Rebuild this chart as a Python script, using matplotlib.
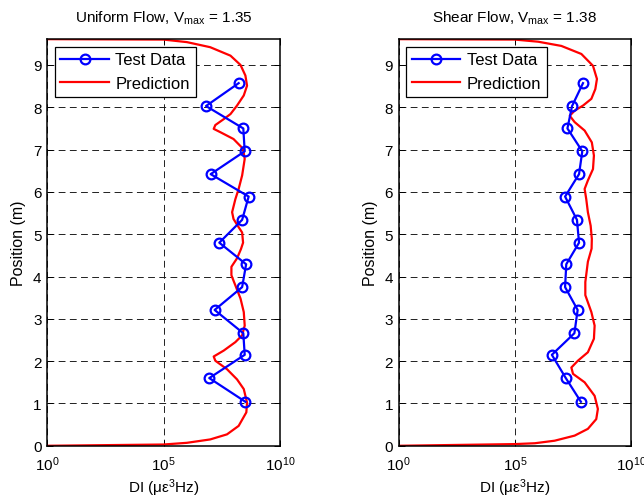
import numpy as np
import matplotlib
matplotlib.use("Agg")
import matplotlib.pyplot as plt

plt.rcParams['font.family'] = ['Liberation Sans', 'DejaVu Sans']
plt.rcParams['mathtext.fontset'] = 'custom'
plt.rcParams['mathtext.rm'] = 'Liberation Sans'
plt.rcParams['mathtext.it'] = 'Liberation Sans'

# Test data positions (m)
test_pos = [8.57, 8.03, 7.50, 6.96, 6.42, 5.89, 5.34, 4.80, 4.29, 3.75, 3.21, 2.66, 2.15, 1.60, 1.04]
# log10 DI of test data
uniform_test_log = [8.22, 6.82, 8.42, 8.48, 7.02, 8.65, 8.37, 7.39, 8.54, 8.37, 7.19, 8.42, 8.48, 6.96, 8.51]
shear_test_log = [7.93, 7.46, 7.26, 7.90, 7.76, 7.16, 7.67, 7.76, 7.21, 7.16, 7.70, 7.56, 6.59, 7.19, 7.84]

# Prediction curves (position, log10 DI)
uniform_pred_pos = [9.61, 9.60, 9.54, 9.42, 9.22, 9.00, 8.75, 8.51, 8.28, 8.04, 7.84, 7.72, 7.58, 7.49, 7.41,
                    7.25, 7.02, 6.78, 6.39, 6.07, 5.83, 5.52, 5.36, 5.20, 5.04, 4.80, 4.65, 4.43, 4.23, 4.03,
                    3.79, 3.48, 3.16, 2.84, 2.61, 2.45, 2.25, 2.11, 2.01, 1.81, 1.57, 1.34, 1.02, 0.79, 0.47,
                    0.27, 0.15, 0.07, 0.03, 0.0]
uniform_pred_log = [0.0, 5.0, 6.0, 7.0, 7.87, 8.30, 8.51, 8.58, 8.44, 8.15, 7.87, 7.58, 7.22, 7.15, 7.44,
                    8.00, 8.41, 8.48, 8.37, 8.22, 8.08, 7.94, 8.00, 8.18, 8.37, 8.41, 8.32, 8.15, 7.91, 7.91,
                    8.08, 8.30, 8.44, 8.48, 8.37, 8.08, 7.58, 7.15, 7.22, 7.72, 8.15, 8.44, 8.58, 8.55, 8.22,
                    7.72, 7.00, 6.00, 5.00, 0.0]

shear_pred_pos = [9.61, 9.60, 9.55, 9.45, 9.26, 8.98, 8.67, 8.43, 8.20, 8.04, 7.92, 7.80, 7.65, 7.45, 7.17,
                  6.86, 6.54, 6.27, 6.07, 5.83, 5.52, 5.20, 4.89, 4.66, 4.35, 3.87, 3.56, 3.16, 2.84, 2.53,
                  2.21, 2.01, 1.85, 1.70, 1.50, 1.18, 0.87, 0.63, 0.40, 0.24, 0.12, 0.06, 0.04, 0.0]
shear_pred_log = [0.0, 5.0, 6.0, 7.0, 7.86, 8.36, 8.53, 8.46, 8.29, 7.93, 7.57, 7.36, 7.57, 8.00, 8.31,
                  8.40, 8.36, 8.14, 8.00, 8.07, 8.14, 8.26, 8.31, 8.30, 8.14, 8.03, 8.03, 8.29, 8.43, 8.40,
                  8.14, 7.71, 7.43, 7.50, 8.00, 8.43, 8.57, 8.50, 8.14, 7.57, 6.71, 5.86, 5.00, 0.0]

titles = [r'Uniform Flow, V$_{\rm max}$ = 1.35', r'Shear Flow, V$_{\rm max}$ = 1.38']
yticks = [0, 1, 2, 3, 4, 5, 6, 7, 8, 9]
xticks = [1e0, 1e5, 1e10]
xticklabels = [r'10$^{0}$', r'10$^{5}$', r'10$^{10}$']

fig = plt.figure(figsize=(6.44, 5.02), dpi=100)
rects = [[0.073, 0.110, 0.362, 0.810], [0.619, 0.110, 0.361, 0.810]]
datasets = [(uniform_test_log, uniform_pred_pos, uniform_pred_log),
            (shear_test_log, shear_pred_pos, shear_pred_log)]

FS = 11
for rect, title, (tlog, ppos, plog) in zip(rects, titles, datasets):
    ax = fig.add_axes(rect)
    ax.set_xscale('log')
    ax.plot(10 ** np.array(tlog), test_pos, '-o', color='#0000ff', lw=1.6, ms=7,
            mfc='none', mew=1.6, label='Test Data', zorder=3)
    ax.plot(10 ** np.array(plog), ppos, '-', color='#ff0000', lw=1.6, label='Prediction', zorder=2)
    ax.set_xlim(1e0, 1e10)
    ax.set_ylim(0, 9.61)
    ax.set_yticks(yticks)
    ax.set_xticks(xticks)
    ax.set_xticklabels(xticklabels)
    ax.xaxis.set_minor_locator(matplotlib.ticker.NullLocator())
    ax.tick_params(direction='in', length=4, labelsize=FS, top=True, right=True, width=0.7)
    ax.tick_params(axis='x', pad=6)
    ax.tick_params(axis='y', pad=4)
    ax.grid(True, which='major', color='#202020', linestyle=(0, (7, 4.5)), linewidth=0.7)
    for s in ax.spines.values():
        s.set_linewidth(1.1)
        s.set_color('black')
    ax.set_title(title, fontsize=11, pad=13)
    ax.set_xlabel('DI (με$^{3}$Hz)', fontsize=FS, labelpad=3)
    ax.set_ylabel('Position (m)', fontsize=11.5, labelpad=5)
    leg = ax.legend(loc='upper left', fontsize=12, fancybox=False, framealpha=1, edgecolor='black',
                    borderpad=0.35, handlelength=2.9, handletextpad=0.4, labelspacing=0.5,
                    borderaxespad=0.45)
    leg.get_frame().set_linewidth(0.9)

fig.savefig('out.png', dpi=100)
